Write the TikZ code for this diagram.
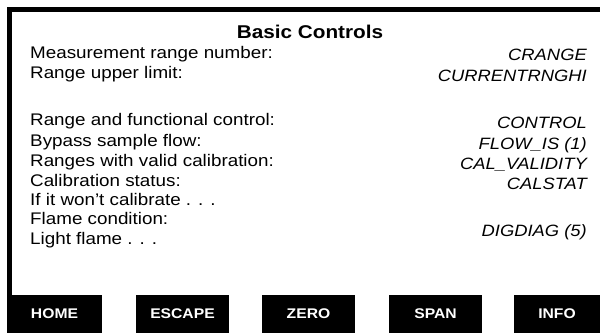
\documentclass[tikz,border=0pt]{standalone}
\usepackage{fontspec}
\setmainfont{Liberation Sans}[FakeStretch=1.12]
\begin{document}
\begin{tikzpicture}[x=1pt,y=1pt,
  lbl/.style={anchor=base west,inner sep=0pt,font=\fontsize{16.8}{19}\selectfont},
  val/.style={anchor=base east,inner sep=0pt,font=\fontsize{16.4}{19}\selectfont\itshape},
  heading/.style={anchor=base,inner sep=0pt,font=\fontsize{18.5}{21}\selectfont\bfseries},
  btn/.style={fill=black,text=white,inner sep=0pt,minimum height=38pt,
              font=\fontsize{14}{16}\selectfont\bfseries},
  frame/.style={line width=5pt,line join=miter}]
\useasboundingbox (0,0) rectangle (600,-333);

% screen frame: top and left edges
\coordinate (fb) at (9.5,-295);
\coordinate (fc) at (9.5,-9.5);
\coordinate (fr) at (600,-9.5);
\draw[frame] (fb) -- (fc) -- (fr);

% heading
\node[heading] (title) at (310,-38) {Basic Controls};

% parameter labels
\node[lbl] (l1) at (30,-58)  {Measurement range number:};
\node[lbl] (l2) at (30,-78)  {Range upper limit:};
\node[lbl] (l3) at (30,-125) {Range and functional control:};
\node[lbl] (l4) at (30,-146) {Bypass sample flow:};
\node[lbl] (l5) at (30,-166) {Ranges with valid calibration:};
\node[lbl] (l6) at (30,-186) {Calibration status:};
\node[lbl] (l7) at (30,-205) {If it won’t calibrate . . .};
\node[lbl] (l8) at (30,-224) {Flame condition:};
\node[lbl] (l9) at (30,-244) {Light flame . . .};

% parameter values
\node[val] (v1) at (587,-60)  {CRANGE};
\node[val] (v2) at (587,-81)  {CURRENTRNGHI};
\node[val] (v3) at (587,-128) {CONTROL};
\node[val] (v4) at (587,-149) {FLOW\_IS (1)};
\node[val] (v5) at (587,-169) {CAL\_VALIDITY};
\node[val] (v6) at (587,-189) {CALSTAT};
\node[val] (v7) at (587,-236) {DIGDIAG (5)};

% soft keys
\node[btn,minimum width=95pt] (home)   at (54.5,-314)  {\raisebox{-1.5pt}{HOME}};
\node[btn,minimum width=93pt] (escape) at (182.5,-314) {\raisebox{-1.5pt}{ESCAPE}};
\node[btn,minimum width=93pt] (zero)   at (308.5,-314) {\raisebox{-1.5pt}{ZERO}};
\node[btn,minimum width=93pt] (span)   at (435.5,-314) {\raisebox{-1.5pt}{SPAN}};
\node[btn,minimum width=86pt] (info)   at (557,-314)   {\raisebox{-1.5pt}{INFO}};
\end{tikzpicture}
\end{document}
